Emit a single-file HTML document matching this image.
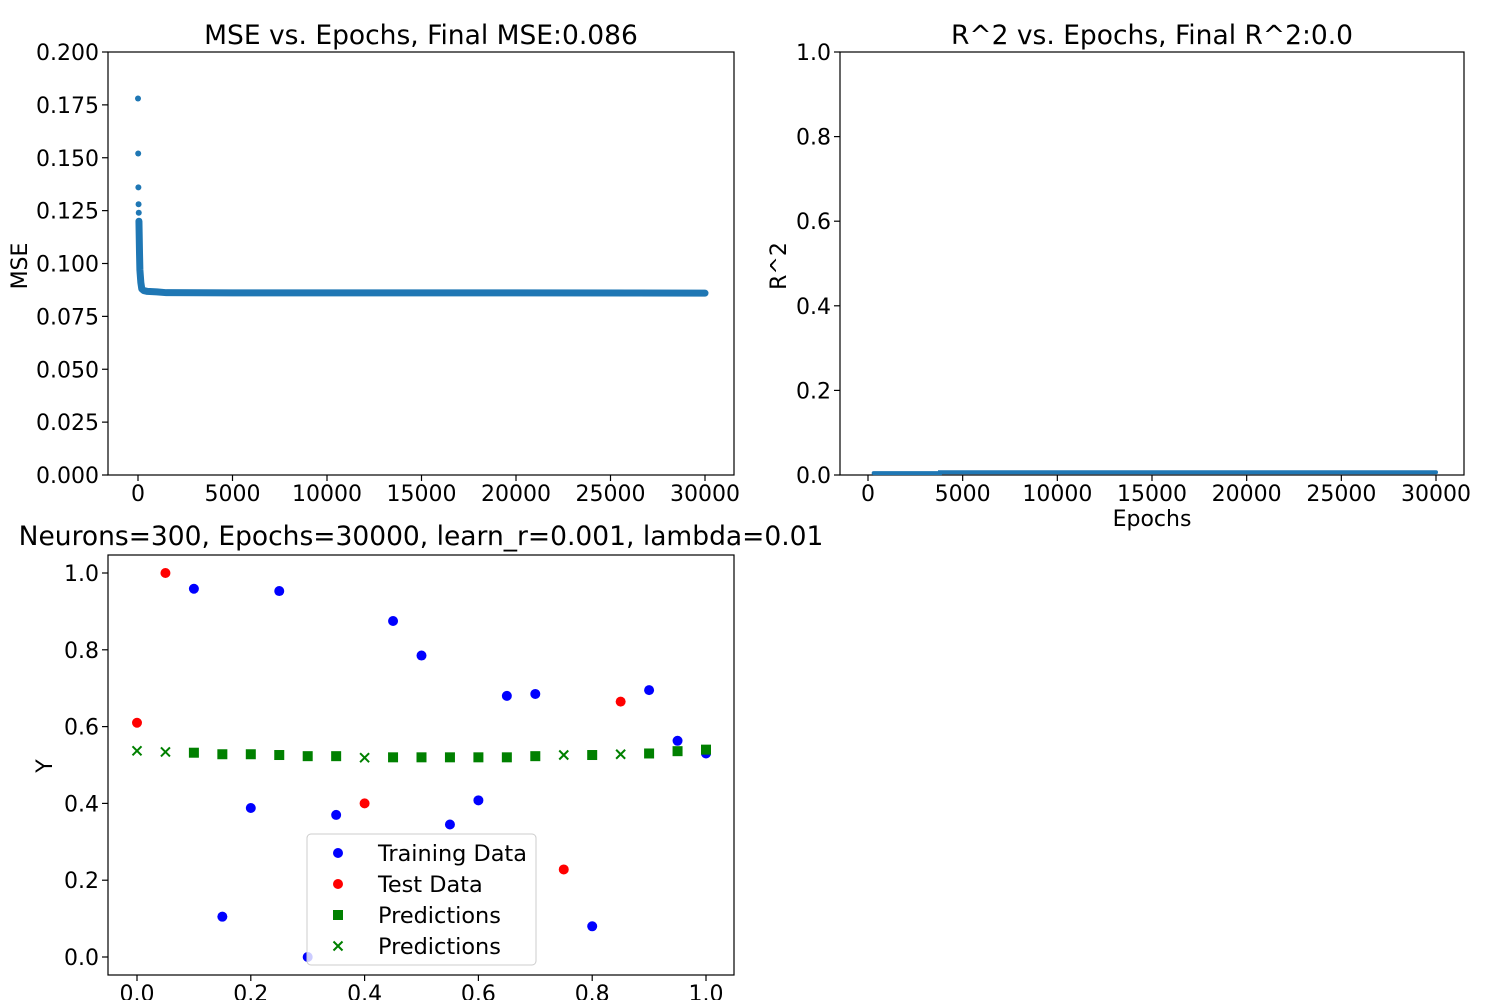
<!DOCTYPE html>
<html><head><meta charset="utf-8"><style>
html,body{margin:0;padding:0;background:#fff;}
svg{display:block;font-family:"DejaVu Sans","Liberation Sans",sans-serif;}
</style></head><body>
<svg id="root" width="1500" height="1000" viewBox="0 0 1500 1000" xmlns="http://www.w3.org/2000/svg">
<g id="p1"></g>
<g id="p2"></g>
<g id="p3"></g>
</svg>
<script>
// MSE chart data
const mseEpochs = [0, 10, 20, 30, 40, 50, 60, 80, 100, 150, 200, 300, 500, 1000, 1500, 5000, 10000, 20000, 30000];
const mseValues = [0.178, 0.152, 0.136, 0.128, 0.124, 0.12, 0.115, 0.105, 0.097, 0.091, 0.088, 0.0872, 0.0868, 0.0866, 0.0862, 0.0861, 0.0861, 0.0861, 0.0860];
const mseTicksX = [0, 5000, 10000, 15000, 20000, 25000, 30000];
const mseTicksY = [0, 0.025, 0.05, 0.075, 0.1, 0.125, 0.15, 0.175, 0.2];
// R^2 chart data
const r2Epochs = [300, 1000, 3800, 3801, 10000, 20000, 30000];
const r2Values = [0.001, 0.001, 0.001, 0.003, 0.003, 0.003, 0.003];
const r2TicksX = [0, 5000, 10000, 15000, 20000, 25000, 30000];
const r2TicksY = [0, 0.2, 0.4, 0.6, 0.8, 1.0];
// Predictions chart data
const trainX = [0.1, 0.15, 0.2, 0.25, 0.3, 0.35, 0.45, 0.5, 0.55, 0.6, 0.65, 0.7, 0.8, 0.9, 0.95, 1.0];
const trainY = [0.959, 0.105, 0.388, 0.953, 0.0, 0.37, 0.875, 0.785, 0.345, 0.408, 0.68, 0.685, 0.08, 0.695, 0.563, 0.53];
const testX = [0, 0.05, 0.4, 0.75, 0.85];
const testY = [0.61, 1.0, 0.4, 0.228, 0.665];
const predTrainY = [0.532, 0.528, 0.528, 0.526, 0.523, 0.523, 0.520, 0.520, 0.520, 0.520, 0.520, 0.523, 0.526, 0.530, 0.536, 0.540];
const predTestY = [0.537, 0.534, 0.519, 0.526, 0.528];
const p3TicksX = [0, 0.2, 0.4, 0.6, 0.8, 1.0];
const p3TicksY = [0, 0.2, 0.4, 0.6, 0.8, 1.0];

const NS = "http://www.w3.org/2000/svg";
function mk(parent, tag, attrs, text){
  const e = document.createElementNS(NS, tag);
  for (const k in attrs) e.setAttribute(k, attrs[k]);
  if (text !== undefined) e.textContent = text;
  parent.appendChild(e); return e;
}
function lin(d0,d1,r0,r1){ return v => r0 + (v-d0)/(d1-d0)*(r1-r0); }

function axes(g, box, sx, sy, tx, ty, fmtX, fmtY){
  const ax = mk(g,'rect',{x:box.l,y:box.t,width:box.r-box.l,height:box.b-box.t,fill:'none',stroke:'#000','stroke-width':1.2});
  
  
  tx.forEach(v=>{
    const x = sx(v);
    const tk = mk(g,'line',{x1:x,x2:x,y1:box.b,y2:box.b+6,stroke:'#000','stroke-width':1.2});
    
    
    const t = mk(g,'text',{x:x,y:box.b+26,'font-size':22,'text-anchor':'middle'},fmtX(v));
    
    
  });
  ty.forEach(v=>{
    const y = sy(v);
    const tk = mk(g,'line',{x1:box.l-6,x2:box.l,y1:y,y2:y,stroke:'#000','stroke-width':1.2});
    
    
    const t = mk(g,'text',{x:box.l-9,y:y+8,'font-size':22,'text-anchor':'end'},fmtY(v));
    
    
  });
}
function title(g,x,y,s,name){
  const t = mk(g,'text',{x:x,y:y,'font-size':26.5,'text-anchor':'middle'},s);
  
  
}
function ylab(g,x,y,s){
  const t = mk(g,'text',{x:0,y:0,'font-size':22,'text-anchor':'middle',transform:`translate(${x},${y}) rotate(-90)`},s);
  
  
}

// Plot 1
(function(){
  const g = document.getElementById('p1');
  const box = {l:108,r:734,t:52,b:475};
  const sx = lin(0,30000,138,705), sy = lin(0,0.2,475,52);
  axes(g,box,sx,sy,mseTicksX,mseTicksY,v=>String(v),v=>v.toFixed(3));
  title(g,421,44,'MSE vs. Epochs, Final MSE:0.086','mse-title');
  ylab(g,27,266,'MSE');
  let d = '';
  mseEpochs.forEach((e,i)=>{ if(i>=5) d += (d?'L':'M')+sx(e)+','+sy(mseValues[i]); });
  const p = mk(g,'path',{d:d,fill:'none',stroke:'#1f77b4','stroke-width':7,'stroke-linejoin':'round','stroke-linecap':'round'});
  
  
  mseEpochs.forEach((e,i)=>{ if(i<5){
    const c = mk(g,'circle',{cx:sx(e),cy:sy(mseValues[i]),r:3,fill:'#1f77b4'});
    
    
  }});
})();

// Plot 2
(function(){
  const g = document.getElementById('p2');
  const box = {l:840,r:1464,t:52,b:475};
  const sx = lin(0,30000,868,1436), sy = lin(0,1,475,52);
  axes(g,box,sx,sy,r2TicksX,r2TicksY,v=>String(v),v=>v.toFixed(1));
  title(g,1152,44,'R^2 vs. Epochs, Final R^2:0.0','r2-title');
  ylab(g,786,266,'R^2');
  const xl = mk(g,'text',{x:1152,y:526,'font-size':22,'text-anchor':'middle'},'Epochs');
  
  
  let d = '';
  r2Epochs.forEach((e,i)=>{ d += (d?'L':'M')+sx(e)+','+(sy(r2Values[i])-1.5); });
  const p = mk(g,'path',{d:d,fill:'none',stroke:'#1f77b4','stroke-width':4,'stroke-linecap':'round'});
  
  
})();

// Plot 3
(function(){
  const g = document.getElementById('p3');
  const box = {l:108,r:734,t:555,b:975};
  const sx = lin(0,1,137,706), sy = lin(0,1,957,573);
  axes(g,box,sx,sy,p3TicksX,p3TicksY,v=>v.toFixed(1),v=>v.toFixed(1));
  title(g,421,545,'Neurons=300, Epochs=30000, learn_r=0.001, lambda=0.01','predictions-title');
  ylab(g,52,766,'Y');
  trainX.forEach((x,i)=>{
    const c = mk(g,'circle',{cx:sx(x),cy:sy(trainY[i]),r:5,fill:'#0000ff'});
    
    
  });
  testX.forEach((x,i)=>{
    const c = mk(g,'circle',{cx:sx(x),cy:sy(testY[i]),r:5,fill:'#ff0000'});
    
    
  });
  trainX.forEach((x,i)=>{
    const r = mk(g,'rect',{x:sx(x)-5,y:sy(predTrainY[i])-5,width:10,height:10,fill:'#008000'});
    
    
  });
  testX.forEach((x,i)=>{
    const cx = sx(x), cy = sy(predTestY[i]);
    const m = mk(g,'path',{d:`M${cx-4.5},${cy-4.5}L${cx+4.5},${cy+4.5}M${cx-4.5},${cy+4.5}L${cx+4.5},${cy-4.5}`,stroke:'#008000','stroke-width':2});
    
    
  });
  // legend
  const lg = mk(g,'g',{});
  
  
  mk(lg,'rect',{x:307,y:834,width:229,height:131,rx:4,fill:'rgba(255,255,255,0.8)',stroke:'#ccc','stroke-width':1});
  const labels = ['Training Data','Test Data','Predictions','Predictions'];
  labels.forEach((s,i)=>{
    const y = 853 + i*31;
    let m;
    if(i===0) m = mk(lg,'circle',{cx:338,cy:y,r:5,fill:'#0000ff'});
    else if(i===1) m = mk(lg,'circle',{cx:338,cy:y,r:5,fill:'#ff0000'});
    else if(i===2) m = mk(lg,'rect',{x:333,y:y-5,width:10,height:10,fill:'#008000'});
    else m = mk(lg,'path',{d:`M333.5,${y-4.5}L342.5,${y+4.5}M333.5,${y+4.5}L342.5,${y-4.5}`,stroke:'#008000','stroke-width':2});
    
    
    const t = mk(lg,'text',{x:378,y:y+8,'font-size':22.4},s);
    
    
  });
})();
</script>
</body></html>
